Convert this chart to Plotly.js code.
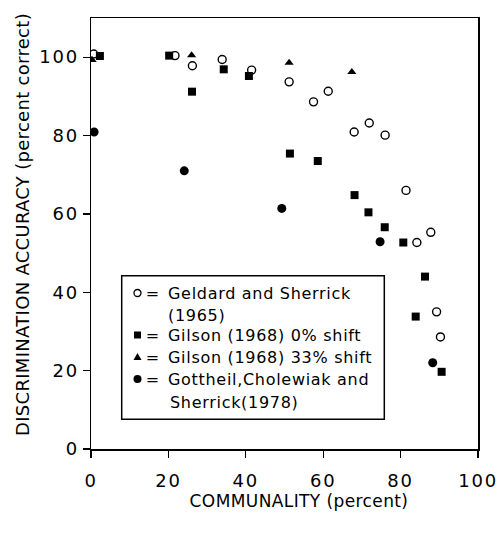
<!DOCTYPE html>
<html>
<head>
<meta charset="utf-8">
<script src="https://cdn.plot.ly/plotly-3.0.1.min.js"></script>
<style>
html,body{margin:0;padding:0;background:#fff;}
#chart{width:498px;height:540px;}
#chart .xtick text, #chart .ytick text{letter-spacing:1.8px;}
#chart .xtitle{letter-spacing:0.4px;}
#chart .ytitle{letter-spacing:0.3px;}
#chart .annotation-text{letter-spacing:0.7px;}
</style>
</head>
<body>
<div id="chart"></div>
<script>
// Geldard and Sherrick (1965)
const geldardX = [0.7, 21.7, 26.2, 33.9, 41.5, 51.2, 57.5, 61.3, 68.0, 71.9, 76.0, 81.4, 84.2, 87.8, 89.3, 90.3];
const geldardY = [100.8, 100.4, 97.8, 99.4, 96.7, 93.7, 88.6, 91.3, 80.9, 83.2, 80.1, 66.0, 52.7, 55.3, 35.0, 28.6];
// Gilson (1968) 0% shift
const gilson0X = [2.3, 20.2, 26.1, 34.3, 40.8, 51.4, 58.6, 68.1, 71.7, 75.9, 80.7, 86.3, 83.9, 90.6];
const gilson0Y = [100.3, 100.4, 91.2, 96.9, 95.2, 75.4, 73.5, 64.8, 60.4, 56.6, 52.7, 44.0, 33.8, 19.7];
// Gilson (1968) 33% shift
const gilson33X = [0.3, 26.0, 51.2, 67.4];
const gilson33Y = [99.3, 100.5, 98.6, 96.2];
// Gottheil, Cholewiak and Sherrick (1978)
const gottheilX = [0.8, 24.1, 49.3, 74.7, 88.3];
const gottheilY = [80.9, 71.0, 61.4, 52.9, 22.0];

const seriesNames = [
  "Geldard and Sherrick (1965)",
  "Gilson (1968) 0% shift",
  "Gilson (1968) 33% shift",
  "Gottheil,Cholewiak and Sherrick(1978)"
];
// legend text lines as printed in the key box
const keyLines = [
  ["Geldard and Sherrick", "(1965)"],
  ["Gilson (1968) 0% shift"],
  ["Gilson (1968) 33% shift"],
  ["Gottheil,Cholewiak and", "Sherrick(1978)"]
];
const xTicks = [0, 20, 40, 60, 80, 100];
const yTicks = [0, 20, 40, 60, 80, 100];

const FONT = "DejaVu Sans, sans-serif";
const W = 498, H = 540, ML = 91, MR = 20, MT = 18, MB = 91;
const PW = W - ML - MR, PH = H - MT - MB;
const px2x = p => (p - ML) / PW;
const px2y = p => (H - MB - p) / PH;

const traces = [
  {x: geldardX, y: geldardY, name: seriesNames[0], mode: "markers", type: "scatter",
   marker: {symbol: "circle-open", size: 8, color: "#000", line: {width: 1.4, color: "#000"}}},
  {x: gilson0X, y: gilson0Y, name: seriesNames[1], mode: "markers", type: "scatter",
   marker: {symbol: "square", size: 8, color: "#000"}},
  {x: gilson33X, y: gilson33Y, name: seriesNames[2], mode: "markers", type: "scatter",
   marker: {symbol: "triangle-up", size: 8, color: "#000"}},
  {x: gottheilX, y: gottheilY, name: seriesNames[3], mode: "markers", type: "scatter",
   marker: {symbol: "circle", size: 9, color: "#000"}}
];

const axisCommon = {
  showgrid: false, zeroline: false, showline: true, linecolor: "#000", linewidth: 1.5,
  mirror: true, ticks: "outside", ticklen: 7, tickwidth: 1.2, tickcolor: "#000",
  tickfont: {family: FONT, size: 18, color: "#000"}
};

// key box (drawn inside the plot like the original figure)
const rowY = [293, 335, 357, 379];
const lineY = [[293, 315], [335], [357], [379, 402]];
const symX = 137.5, eqX = 152, txtX = 166;
const shapes = [
  {type: "rect", xref: "paper", yref: "paper", x0: px2x(121.7), x1: px2x(384.3), y0: px2y(419.3), y1: px2y(275.7),
   line: {color: "#000", width: 1.5}, fillcolor: "#fff", layer: "above"},
  // open circle
  {type: "circle", xref: "paper", yref: "paper", xsizemode: "pixel", ysizemode: "pixel",
   xanchor: px2x(symX), yanchor: px2y(rowY[0]), x0: -3.5, x1: 3.5, y0: -3.5, y1: 3.5,
   line: {color: "#000", width: 1.3}, fillcolor: "rgba(0,0,0,0)", layer: "above"},
  // filled square
  {type: "rect", xref: "paper", yref: "paper", xsizemode: "pixel", ysizemode: "pixel",
   xanchor: px2x(symX), yanchor: px2y(rowY[1]), x0: -3.5, x1: 3.5, y0: -3.5, y1: 3.5,
   line: {color: "#000", width: 0}, fillcolor: "#000", layer: "above"},
  // filled triangle
  {type: "path", xref: "paper", yref: "paper", xsizemode: "pixel", ysizemode: "pixel",
   xanchor: px2x(symX), yanchor: px2y(rowY[2]), path: "M -4 -3 L 4 -3 L 0 4 Z",
   line: {color: "#000", width: 0}, fillcolor: "#000", layer: "above"},
  // filled circle
  {type: "circle", xref: "paper", yref: "paper", xsizemode: "pixel", ysizemode: "pixel",
   xanchor: px2x(symX), yanchor: px2y(rowY[3]), x0: -4, x1: 4, y0: -4, y1: 4,
   line: {color: "#000", width: 0}, fillcolor: "#000", layer: "above"}
];

const annotations = [];
keyLines.forEach((lines, i) => {
  annotations.push({xref: "paper", yref: "paper", x: px2x(eqX), y: px2y(rowY[i]), text: "=",
    showarrow: false, xanchor: "center", yanchor: "middle", font: {family: FONT, size: 16, color: "#000"}});
  lines.forEach((t, j) => {
    annotations.push({xref: "paper", yref: "paper", x: px2x(txtX + (i === 3 && j === 1 ? 2 : 0)), y: px2y(lineY[i][j]),
      text: t, showarrow: false, xanchor: "left", yanchor: "middle", align: "left",
      font: {family: FONT, size: 16, color: "#000"}});
  });
});

const layout = {
  width: W, height: H,
  margin: {l: ML, r: MR, t: MT, b: MB},
  paper_bgcolor: "#fff", plot_bgcolor: "#fff",
  font: {family: FONT, color: "#000"},
  showlegend: false,
  xaxis: Object.assign({}, axisCommon, {
    range: [0, 100], tickvals: xTicks, ticktext: xTicks.map(String), ticklabelstandoff: 8,
    title: {text: "&nbsp;&nbsp;&nbsp;&nbsp;&nbsp;COMMUNALITY (percent)", font: {family: FONT, size: 17, color: "#000"}, standoff: 1}
  }),
  yaxis: Object.assign({}, axisCommon, {
    range: [0, 110], tickvals: yTicks, ticktext: yTicks.map(String), ticklabelstandoff: 0,
    title: {text: "&nbsp;&nbsp;&nbsp;DISCRIMINATION ACCURACY (percent correct)", font: {family: FONT, size: 18, color: "#000"}, standoff: 10}
  }),
  shapes: shapes,
  annotations: annotations
};

Plotly.newPlot("chart", traces, layout, {displayModeBar: false, staticPlot: true});
</script>
</body>
</html>
